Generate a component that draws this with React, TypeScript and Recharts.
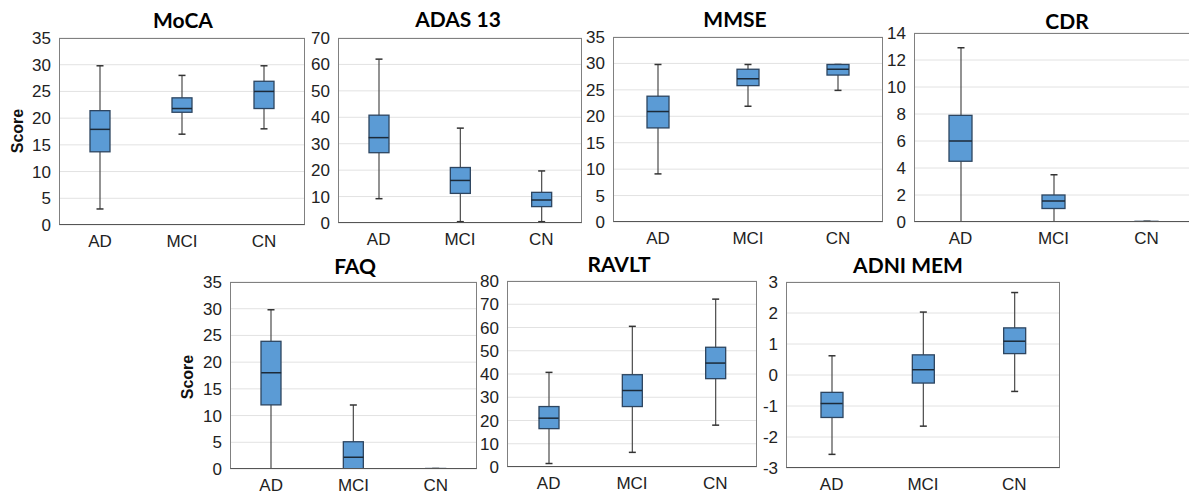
import React from "react";
import { ComposedChart, Bar, Scatter, XAxis, YAxis, CartesianGrid } from "recharts";

const groups = ["AD", "MCI", "CN"];

// five-number summaries per group: [min, q1, median, q3, max]
const moca = [
  [3, 13.7, 17.9, 21.4, 29.8],
  [17, 21.1, 21.8, 23.8, 28],
  [18, 21.8, 25, 26.9, 29.8],
];
const adas = [
  [9.2, 26.6, 32.3, 40.8, 62],
  [0.5, 11.2, 16.1, 21, 35.9],
  [0.5, 6.2, 8.7, 11.6, 19.7],
];
const mmse = [
  [9.1, 17.8, 20.9, 23.8, 29.8],
  [21.9, 25.8, 27.1, 28.9, 29.8],
  [24.9, 27.8, 28.9, 29.8, 29.8],
];
const cdr = [
  [0, 4.5, 6, 7.9, 12.9],
  [0, 1, 1.55, 2, 3.5],
  [0, 0, 0, 0.05, 0.05],
];
const faq = [
  [0, 12, 18, 23.9, 29.8],
  [0, 0, 2.2, 5.1, 12],
  [0, 0, 0, 0.1, 0.1],
];
const ravlt = [
  [1.5, 16.5, 21, 26, 40.7],
  [6.3, 26, 32.9, 39.7, 60.5],
  [18, 38, 44.7, 51.5, 72.2],
];
const adniMem = [
  [-2.56, -1.37, -0.92, -0.56, 0.62],
  [-1.65, -0.26, 0.17, 0.65, 2.03],
  [-0.53, 0.69, 1.09, 1.52, 2.66],
];

const ticks35 = [0, 5, 10, 15, 20, 25, 30, 35];
const ticks70 = [0, 10, 20, 30, 40, 50, 60, 70];
const ticks14 = [0, 2, 4, 6, 8, 10, 12, 14];
const ticks80 = [0, 10, 20, 30, 40, 50, 60, 70, 80];
const ticksMem = [-3, -2, -1, 0, 1, 2, 3];

const panels = [
  { title: "MoCA", stats: moca, ticks: ticks35, box: [59, 38, 305, 225], tx: 183, ty: 19 },
  { title: "ADAS 13", stats: adas, ticks: ticks70, box: [338, 38, 582, 223], tx: 458, ty: 18 },
  { title: "MMSE", stats: mmse, ticks: ticks35, box: [613, 37, 883, 222], tx: 735, ty: 18 },
  { title: "CDR", stats: cdr, ticks: ticks14, box: [914, 33, 1193, 222], tx: 1067, ty: 20 },
  { title: "FAQ", stats: faq, ticks: ticks35, box: [230, 282, 477, 469], tx: 355, ty: 265 },
  { title: "RAVLT", stats: ravlt, ticks: ticks80, box: [507, 281, 757, 467], tx: 619, ty: 263 },
  { title: "ADNI MEM", stats: adniMem, ticks: ticksMem, box: [786, 282, 1060, 468], tx: 908, ty: 264 },
];

const FONT = "Liberation Sans";
const BLUE = "#5b9bd5";
const tickStyle = { fill: "#222", fontSize: 17, fontFamily: FONT };

const WhiskerShape = (props: any) => {
  const { x, y, width, height } = props;
  const cx = x + width / 2;
  const top = Math.min(y, y + height);
  const bot = Math.max(y, y + height);
  return (
    <g>
      <line x1={cx} x2={cx} y1={top} y2={bot} stroke="#4a4a4a" strokeWidth={1.2} />
      <line x1={cx - 3.5} x2={cx + 3.5} y1={top} y2={top} stroke="#333" strokeWidth={1.5} />
      <line x1={cx - 3.5} x2={cx + 3.5} y1={bot} y2={bot} stroke="#333" strokeWidth={1.5} />
    </g>
  );
};

const BoxShape = (props: any) => {
  const { x, y, width, height } = props;
  const top = Math.min(y, y + height);
  const h = Math.abs(height);
  return <rect x={x} y={top} width={width} height={Math.max(h, 0.8)} fill={BLUE} stroke="#2d4560" strokeWidth={1.3} />;
};

function Panel({ title, stats, ticks, box, tx, ty }: any) {
  const [L, T, R, B] = box;
  const w = R - L;
  const h = B - T;
  const band = w / 3;
  const boxW = Math.round(band * 0.245);
  const rows = groups.map((g, i) => ({
    name: g,
    whisker: [stats[i][0], stats[i][4]],
    box: [stats[i][1], stats[i][3]],
    median: stats[i][2],
  }));
  const MedianShape = (p: any) => (
    <line x1={p.cx - boxW / 2} x2={p.cx + boxW / 2} y1={p.cy} y2={p.cy} stroke="#1c2a38" strokeWidth={1.5} />
  );
  return (
    <>
      <div
        style={{
          position: "absolute",
          left: tx,
          top: ty,
          transform: "translate(-50%, -50%)",
          fontFamily: "Lato, 'Open Sans', sans-serif",
          fontWeight: 700,
          fontSize: 21,
          color: "#000",
          whiteSpace: "nowrap",
        }}
      >
        {title}
      </div>
      <div style={{ position: "absolute", left: L - 50, top: T - 10 }}>
        <ComposedChart
          width={w + 55}
          height={h + 40}
          data={rows}
          margin={{ top: 10, right: 5, left: 0, bottom: 0 }}
          style={{ fontFamily: FONT }}
        >
          <CartesianGrid vertical={false} stroke="#e2e2e2" />
          <XAxis
            dataKey="name"
            tickLine={false}
            axisLine={false}
            height={30}
            tickMargin={4}
            tick={tickStyle}
            interval={0}
          />
          <XAxis xAxisId="w" dataKey="name" hide />
          <YAxis
            type="number"
            domain={[ticks[0], ticks[ticks.length - 1]]}
            ticks={ticks}
            interval={0}
            width={50}
            tickLine={false}
            axisLine={false}
            allowDataOverflow
            tick={tickStyle}
          />
          <Bar xAxisId="w" dataKey="whisker" barSize={8} shape={WhiskerShape} isAnimationActive={false} />
          <Bar dataKey="box" barSize={boxW} shape={BoxShape} isAnimationActive={false} />
          <Scatter dataKey="median" shape={MedianShape} isAnimationActive={false} />
        </ComposedChart>
      </div>
      <div
        style={{
          position: "absolute",
          left: L,
          top: T,
          width: w,
          height: h,
          boxSizing: "border-box",
          border: "1px solid #808080",
          borderBottom: "1.5px solid #555",
          pointerEvents: "none",
        }}
      />
    </>
  );
}

const ScoreLabel = ({ x, y }: { x: number; y: number }) => (
  <div
    style={{
      position: "absolute",
      left: x,
      top: y,
      transform: "translate(-50%, -50%) rotate(-90deg)",
      fontFamily: FONT,
      fontWeight: 700,
      fontSize: 16,
      color: "#111",
    }}
  >
    Score
  </div>
);

export default function App() {
  return (
    <div
      style={{
        position: "absolute",
        left: 0,
        top: 0,
        width: 1189,
        height: 496,
        background: "#fff",
        overflow: "hidden",
      }}
    >
      {panels.map((p) => (
        <Panel key={p.title} {...p} />
      ))}
      <ScoreLabel x={18} y={131} />
      <ScoreLabel x={188} y={377} />
    </div>
  );
}
